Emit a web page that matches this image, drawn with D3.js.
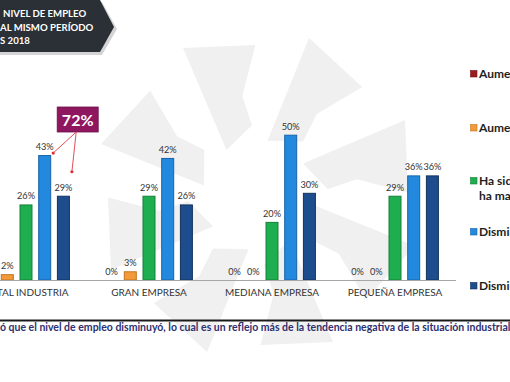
<!DOCTYPE html>
<html><head><meta charset="utf-8">
<script src="https://cdn.jsdelivr.net/npm/d3@7"></script>
<style>
html,body{margin:0;padding:0;background:#fff;overflow:hidden;}
svg{display:block;font-family:Lato,"Open Sans",sans-serif;}
</style></head>
<body>
<svg id="c" width="510" height="382"></svg>
<script>
const categories = ["TOTAL INDUSTRIA","GRAN EMPRESA","MEDIANA EMPRESA","PEQUEÑA EMPRESA"];
const seriesNames = ["Aumentó significativamente","Aumentó","Ha sido igual /","Disminuyó","Disminuyó significativamente"];
const seriesNames2 = ["","","ha mantenido","",""];
const aumentoSig = [0,0,0,0];
const aumento = [2,3,0,0];
const igual = [26,29,20,29];
const disminuyo = [43,42,50,36];
const disminuyoSig = [29,26,30,36];
const colors = ["#9b1c1f","#f39a3b","#1fae4f","#2389de","#1d4d8c"];
const strokes = ["#6e1214","#c4741f","#15803a","#1763a8","#12325e"];
const titleLines = ["NIVEL DE EMPLEO","AL MISMO PERÍODO","S 2018"];
const calloutValue = "72%";
const footText = "ó que el nivel de empleo disminuyó, lo cual es un reflejo más de la tendencia negativa de la situación industrial del país.";

const series = [aumentoSig, aumento, igual, disminuyo, disminuyoSig];
const svg = d3.select("#c");

// watermark
const wm = svg.append("g").attr("fill","#f0f0f0");
const cx = 258, cy = 195;
const pol = (r,a)=>[cx + r*Math.cos(a*Math.PI/180), cy + r*Math.sin(a*Math.PI/180)];
for (let i=0;i<8;i++){
  const a = i*45 - 80;
  const pts = [pol(55,a), pol(165,a+8), pol(150,a+34), pol(100,a+26), pol(70,a+30)];
  wm.append("polygon").attr("points", pts.map(p=>p.join(",")).join(" "));
}

// scales
const x0 = d3.scaleBand().domain(categories).range([-35.5, 456.5]).paddingInner(0).paddingOuter(0);
const x1 = d3.scaleBand().domain(d3.range(5)).range([17.6, 105.4]).paddingInner(0.305).paddingOuter(0);
const y = d3.scaleLinear().domain([0,50]).range([280, 134.7]);

// bars
const g = svg.append("g");
categories.forEach((c,ci)=>{
  const gg = g.append("g").attr("transform",`translate(${x0(c)},0)`);
  series.forEach((s,si)=>{
    const v = s[ci];
    if (v>0){
      gg.append("rect").attr("x",x1(si)+0.5).attr("y",y(v)+0.5)
        .attr("width",x1.bandwidth()-1).attr("height",y(0)-y(v)-0.5)
        .attr("fill",colors[si]).attr("stroke",strokes[si]).attr("stroke-width",1);
    }
    gg.append("text").attr("x",x1(si)+x1.bandwidth()/2).attr("y",y(v)-5)
      .attr("text-anchor","middle").attr("font-size",9.2).attr("fill","#333")
      .text(v+"%");
  });
});

// axis
const xAxis = d3.axisBottom(x0).tickSize(0).tickPadding(9);
const ax = svg.append("g").attr("transform","translate(0,280)").call(xAxis);
ax.select(".domain").attr("d","M0,0.5H456").attr("stroke","#a6a6a6").attr("stroke-width",1.2);
ax.selectAll("text").attr("font-size",10).attr("fill","#333").attr("font-family","Lato,'Open Sans',sans-serif");

// callout
const c0 = categories[0];
const bx = x0(c0)+x1(3)+x1.bandwidth()+6, by = 107;
const tip1 = [x0(c0)+x1(3)+x1.bandwidth()+2, y(disminuyo[0])-2];
const tip2 = [x0(c0)+x1(4)+x1.bandwidth()+2, y(disminuyoSig[0])-24];
const org = [bx+19, by+25];
svg.append("rect").attr("x",bx).attr("y",by).attr("width",41).attr("height",25)
  .attr("fill","#8e1760").attr("stroke","#6b0f48").attr("stroke-width",0.8);
svg.append("text").attr("x",bx+20.5).attr("y",by+18.5).attr("text-anchor","middle")
  .attr("font-size",16).attr("font-weight","bold").attr("fill","#fff").text(calloutValue);
[tip1,tip2].forEach(t=>{
  svg.append("line").attr("x1",org[0]).attr("y1",org[1]).attr("x2",t[0]).attr("y2",t[1])
    .attr("stroke","#e0505a").attr("stroke-width",1);
  svg.append("circle").attr("cx",t[0]).attr("cy",t[1]).attr("r",1.6).attr("fill","#e0303a");
});

// title box
svg.append("polygon").attr("points","0,2 102,2 117,29 102,55 0,55").attr("fill","#b8b8b8").attr("opacity",0.6);
svg.append("polygon").attr("points","0,0 100,0 114,27 100,52 0,52").attr("fill","#2b2f36");
titleLines.forEach((t,i)=>{
  svg.append("text").attr("x",i===0?3:0).attr("y",17+i*13.5).attr("font-size",9.6)
    .attr("font-weight","bold").attr("fill","#fff").text(t);
});

// legend
const ly = [74,128,181,232,286];
seriesNames.forEach((n,i)=>{
  svg.append("rect").attr("x",470.5).attr("y",ly[i]-3.5).attr("width",6.5).attr("height",6.5)
    .attr("fill",colors[i]).attr("stroke",strokes[i]).attr("stroke-width",0.6);
  svg.append("text").attr("x",479).attr("y",ly[i]+4).attr("font-size",12)
    .attr("font-weight","bold").attr("fill","#1e1e1e").text(n);
  if (seriesNames2[i]) svg.append("text").attr("x",479).attr("y",ly[i]+19).attr("font-size",12)
    .attr("font-weight","bold").attr("fill","#1e1e1e").text(seriesNames2[i]);
});

// footer
svg.append("line").attr("x1",0).attr("x2",510).attr("y1",320.5).attr("y2",320.5)
  .attr("stroke","#1a1a1a").attr("stroke-width",2);
svg.append("text").attr("x",0).attr("y",331).attr("font-size",10.5).attr("font-weight","bold")
  .attr("fill","#2e2f6e").text(footText);
</script>
</body></html>
